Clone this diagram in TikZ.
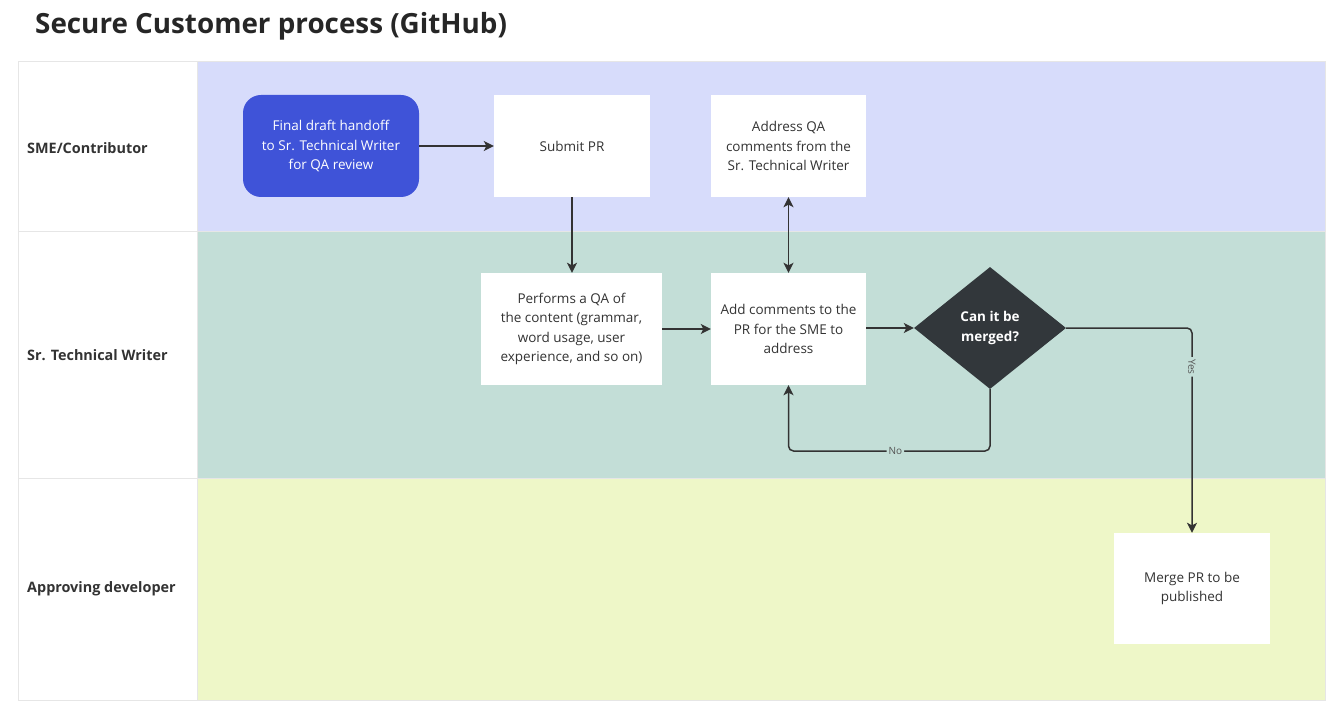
\documentclass[tikz,border=0pt]{standalone}
\usepackage{fontspec}
\setmainfont{Open Sans}
\usetikzlibrary{shapes.geometric,arrows.meta}
\definecolor{laneA}{HTML}{D7DCFB}
\definecolor{laneB}{HTML}{C3DED7}
\definecolor{laneC}{HTML}{EEF7C8}
\definecolor{bluebox}{HTML}{3F53D8}
\definecolor{darkdia}{HTML}{32373B}
\definecolor{ink}{HTML}{333333}
\definecolor{gridline}{HTML}{E6E6E6}
\definecolor{lbl}{HTML}{555555}
\tikzset{
  box/.style={draw=none, fill=white, align=center, text=ink, inner sep=2pt,
    font=\fontsize{13.5}{19.5}\selectfont},
  startbox/.style={box, fill=bluebox, text=white, rounded corners=18pt},
  decision/.style={diamond, fill=darkdia, text=white, align=center, inner sep=0pt,
    font=\fontsize{13.5}{19.5}\selectfont\bfseries},
  lanelabel/.style={anchor=west, text=ink, font=\fontsize{14.4}{17}\selectfont\bfseries, inner sep=0pt},
  titletext/.style={anchor=west, text=black!85, font=\fontsize{27.8}{32}\selectfont\bfseries, inner sep=0pt},
  arr/.style={draw=ink, line width=1.5pt, -{Stealth[length=10pt,width=10pt,inset=2.5pt]}},
  arrboth/.style={draw=ink, line width=1.5pt, {Stealth[length=10pt,width=10pt,inset=2.5pt]}-{Stealth[length=10pt,width=10pt,inset=2.5pt]}},
  edgelabel/.style={text=lbl, font=\fontsize{10}{12}\selectfont, inner sep=2pt, fill=laneB},
}
\begin{document}
\begin{tikzpicture}[x=1pt,y=-1pt]
\useasboundingbox (0,0) rectangle (1340,708);
\fill[white] (0,0) rectangle (1340,708);
% lanes
\fill[laneA] (197,62) rectangle (1325,232);
\fill[laneB] (197,232) rectangle (1325,478);
\fill[laneC] (197,478) rectangle (1325,700);
\draw[gridline, line width=1pt] (18,62) rectangle (1325,700);
\draw[gridline, line width=1pt] (18,232) -- (1325,232);
\draw[gridline, line width=1pt] (18,478) -- (1325,478);
\draw[gridline, line width=1pt] (197,62) -- (197,700);
% title
\node[titletext] (title) at (35,26) {Secure Customer process (GitHub)};
% lane labels
\node[lanelabel] (l1) at (27,148) {SME/Contributor};
\node[lanelabel] (l2) at (27,355) {Sr. Technical Writer};
\node[lanelabel] (l3) at (27,589) {Approving developer};
% nodes
\node[startbox, minimum width=176pt, minimum height=102pt] (final) at (331,146)
  {Final draft handoff\\to Sr. Technical Writer\\for QA review};
\node[box, minimum width=156pt, minimum height=102pt] (submit) at (572,146) {Submit PR};
\node[box, minimum width=155pt, minimum height=102pt] (address) at (788.5,146)
  {Address QA\\comments from the\\Sr. Technical Writer};
\node[box, minimum width=181pt, minimum height=112pt] (perform) at (571.5,329)
  {Performs a QA of\\the content (grammar,\\word usage, user\\experience, and so on)};
\node[box, minimum width=155pt, minimum height=112pt] (addc) at (788.5,329)
  {Add comments to the\\PR for the SME to\\address};
\node[decision, minimum width=152pt, minimum height=122pt] (dia) at (990,328)
  {Can it be\\merged?};
\node[box, minimum width=156pt, minimum height=111pt] (merge) at (1192,588.5)
  {Merge PR to be\\published};
\coordinate (nob) at (990,451);
% connectors
\draw[arr] (final.east) -- (final.east -| submit.west);
\draw[arr] (submit.south) -- (submit.south |- perform.north);
\draw[arrboth] (address) -- (addc);
\draw[arr] (perform) -- (addc);
\draw[arr] (addc.east |- dia.west) -- (dia.west);
\draw[arr, rounded corners=5pt] (dia.east) -| node[pos=0.595, edgelabel, rotate=-90] {Yes} (merge.north);
\draw[arr, rounded corners=5pt] (dia.south) -- (nob) -- node[pos=0.47, edgelabel] {No} (addc.south |- nob) -- (addc.south);
\end{tikzpicture}
\end{document}
